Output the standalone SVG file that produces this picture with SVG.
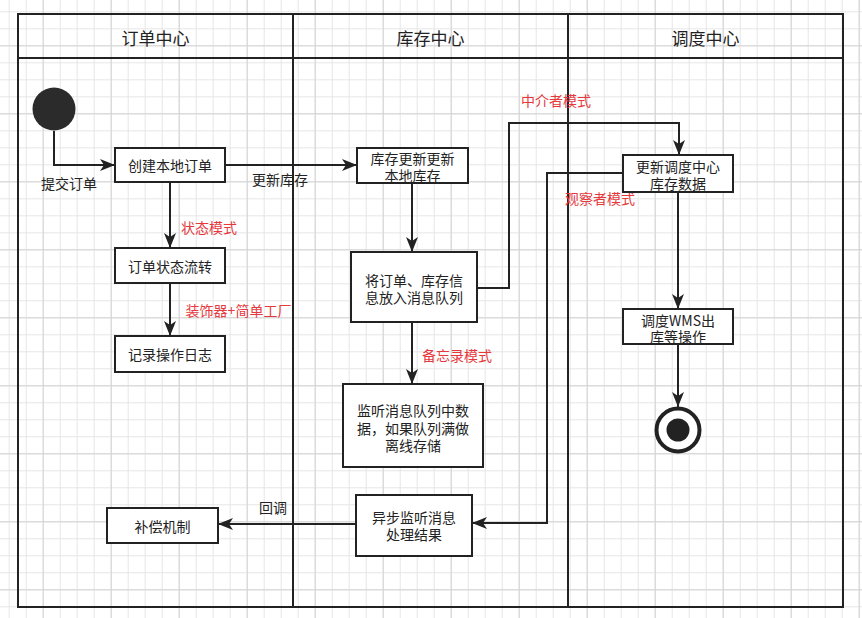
<svg xmlns="http://www.w3.org/2000/svg" width="862" height="618" viewBox="0 0 862 618">
<style>
text{font-family:"Noto Sans CJK SC","Liberation Sans",sans-serif;font-size:14px;fill:#222;text-anchor:middle;dominant-baseline:central}
.hdr{font-size:17px}
.red{fill:#e5393d;font-size:14px}
.box{fill:#fff;stroke:#222;stroke-width:2}
.lane{fill:none;stroke:#222;stroke-width:2}
.edge{fill:none;stroke:#222;stroke-width:2;marker-end:url(#arr)}
</style>
<defs>
<pattern id="gminor" x="8.7" y="11.3" width="17" height="17" patternUnits="userSpaceOnUse">
<path d="M0,0.5 H17 M0.5,0 V17" fill="none" stroke="#e6e6e6" stroke-width="1"/>
</pattern>
<pattern id="gmajor" x="42.7" y="45.3" width="68" height="68" patternUnits="userSpaceOnUse">
<path d="M0,0.5 H68 M0.5,0 V68" fill="none" stroke="#d4d4d4" stroke-width="1"/>
</pattern>
<marker id="arr" markerUnits="userSpaceOnUse" markerWidth="16" markerHeight="12" refX="15" refY="6" orient="auto">
<path d="M0,0 L15,6 L0,12 L4,6 Z" fill="#222"/>
</marker>
</defs>
<rect width="862" height="618" fill="#fff"/>
<rect width="862" height="618" fill="url(#gminor)"/>
<rect width="862" height="618" fill="url(#gmajor)"/>

<g id="lanes">
<rect class="lane" x="18" y="14" width="825" height="593" fill="#fff"/>
<line class="lane" x1="18" y1="58" x2="843" y2="58"/>
<line class="lane" x1="293" y1="14" x2="293" y2="607"/>
<line class="lane" x1="568" y1="14" x2="568" y2="607"/>
<text class="hdr" x="155.5" y="37">订单中心</text>
<text class="hdr" x="430.5" y="37">库存中心</text>
<text class="hdr" x="705.5" y="37">调度中心</text>
</g>

<g id="connectors">
<path class="edge" d="M54,131 V165 H115"/>
<path class="edge" d="M225,165 H357"/>
<path class="edge" d="M170,182 V248"/>
<path class="edge" d="M170,283 V336"/>
<path class="edge" d="M412,183 V252"/>
<path class="edge" d="M412,322 V384"/>
<path class="edge" d="M477,288 H509 V123 H679 V155"/>
<path class="edge" d="M623,173 H547 V523 H472"/>
<path class="edge" d="M678,192 V309"/>
<path class="edge" d="M678,344 V407"/>
<path class="edge" d="M356,524 H218"/>
<text x="69" y="183">提交订单</text>
<text x="280" y="179">更新库存</text>
<text class="red" x="209" y="227">状态模式</text>
<text class="red" x="238.5" y="310">装饰器+简单工厂</text>
<text class="red" x="556" y="100">中介者模式</text>
<text class="red" x="600" y="198">观察者模式</text>
<text class="red" x="457" y="355">备忘录模式</text>
<text x="273" y="507">回调</text>
</g>

<g id="start"><circle cx="54" cy="109" r="21.5" fill="#2b2b2b"/></g>

<g id="n-create"><rect class="box" x="115" y="148" width="110" height="34"/><text x="170" y="165">创建本地订单</text></g>
<g id="n-state"><rect class="box" x="115" y="248" width="110" height="35"/><text x="170" y="265.5">订单状态流转</text></g>
<g id="n-log"><rect class="box" x="115" y="336" width="110" height="36"/><text x="170" y="354">记录操作日志</text></g>
<g id="n-stock"><rect class="box" x="357" y="148" width="111" height="35"/><text x="412.5" y="158">库存更新更新</text><text x="412.5" y="175">本地库存</text></g>
<g id="n-mq"><rect class="box" x="351" y="252" width="126" height="70"/><text x="414" y="280">将订单、库存信</text><text x="414" y="297">息放入消息队列</text></g>
<g id="n-listen"><rect class="box" x="343" y="384" width="140" height="83"/><text x="413" y="410">监听消息队列中数</text><text x="413" y="428">据，如果队列满做</text><text x="413" y="445">离线存储</text></g>
<g id="n-async"><rect class="box" x="356" y="495" width="116" height="61"/><text x="414" y="517">异步监听消息</text><text x="414" y="534">处理结果</text></g>
<g id="n-comp"><rect class="box" x="107" y="508" width="111" height="35"/><text x="162.5" y="525.5">补偿机制</text></g>
<g id="n-dispatch"><rect class="box" x="623" y="155" width="110" height="37"/><text x="678" y="166">更新调度中心</text><text x="678" y="183">库存数据</text></g>
<g id="n-wms"><rect class="box" x="623" y="309" width="110" height="35"/><text x="678" y="320">调度WMS出</text><text x="678" y="336">库等操作</text></g>
<g id="end"><circle cx="678" cy="430" r="21.5" fill="#fff" stroke="#222" stroke-width="4"/><circle cx="678" cy="430" r="11.5" fill="#222"/></g>
</svg>
